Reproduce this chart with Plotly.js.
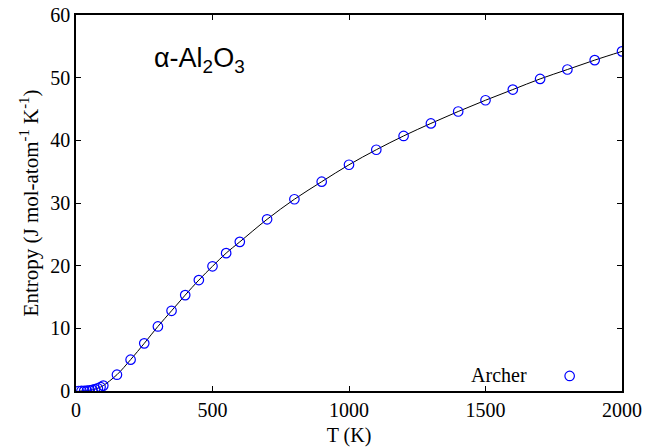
<!DOCTYPE html>
<html><head><meta charset="utf-8">
<script src="https://cdn.plot.ly/plotly-3.0.1.min.js"></script>
<style>body{margin:0;background:#fff}#c{width:663px;height:448px}</style>
</head><body><div id="c"></div>
<script>
const temperature = [10,20,30,40,50,60,70,80,90,100,150,200,250,300,350,400,450,500,550,600,700,800,900,1000,1100,1200,1300,1400,1500,1600,1700,1800,1900,2000];
const entropy = [0.001,0.006,0.02,0.05,0.1,0.18,0.3,0.44,0.63,0.86,2.6,5.0,7.6,10.3,12.8,15.3,17.7,19.9,22.0,23.8,27.4,30.6,33.4,36.1,38.5,40.7,42.7,44.6,46.4,48.1,49.8,51.3,52.8,54.2];
const seriesName = 'Archer';
const xTicks = [0,500,1000,1500,2000];
const yTicks = [0,10,20,30,40,50,60];

const serif = 'Liberation Serif, Times New Roman, serif';
const traces = [
  {x: temperature, y: entropy, mode: 'lines', line: {color: '#000', width: 1, shape: 'spline'}, showlegend: false, hoverinfo: 'skip'},
  {x: temperature, y: entropy, mode: 'markers', name: ' ', marker: {symbol: 'circle-open', size: 9.5, color: '#0000ff', line: {width: 1.2}}}
];
const axisCommon = {showline: true, linecolor: '#000', linewidth: 1.8, mirror: 'ticks', ticks: 'inside', ticklen: 5, tickwidth: 1, tickcolor: '#000', showgrid: false, zeroline: false, tickfont: {family: serif, size: 20, color: '#000'}};
const layout = {
  width: 663, height: 448,
  margin: {l: 76, r: 41, t: 15, b: 57},
  paper_bgcolor: '#fff', plot_bgcolor: '#fff',
  xaxis: Object.assign({}, axisCommon, {range: [0, 2000], tickvals: xTicks, ticktext: xTicks.map(String), title: {text: 'T (K)', font: {family: serif, size: 20, color: '#000'}, standoff: 8}}),
  yaxis: Object.assign({}, axisCommon, {range: [0, 60], tickvals: yTicks, ticktext: yTicks.map(String), title: {text: 'Entropy (J mol-atom<sup>-1</sup> K<sup>-1</sup>)', font: {family: serif, size: 21, color: '#000'}, standoff: 6}}),
  legend: {x: 0.72, y: 0.04, xanchor: 'left', yanchor: 'middle', bgcolor: 'rgba(0,0,0,0)', font: {family: serif, size: 20, color: '#000'}, title: {text: seriesName + '\u00a0\u00a0\u00a0', side: 'left', font: {family: serif, size: 20, color: '#000'}}},
  annotations: [{xref: 'paper', yref: 'paper', x: 0.14, y: 0.88, xanchor: 'left', yanchor: 'middle', showarrow: false, text: 'α-Al<sub>2</sub>O<sub>3</sub>', font: {family: 'Liberation Sans, Arial, sans-serif', size: 27, color: '#000'}}]
};
Plotly.newPlot('c', traces, layout, {displayModeBar: false, staticPlot: true});
</script></body></html>
